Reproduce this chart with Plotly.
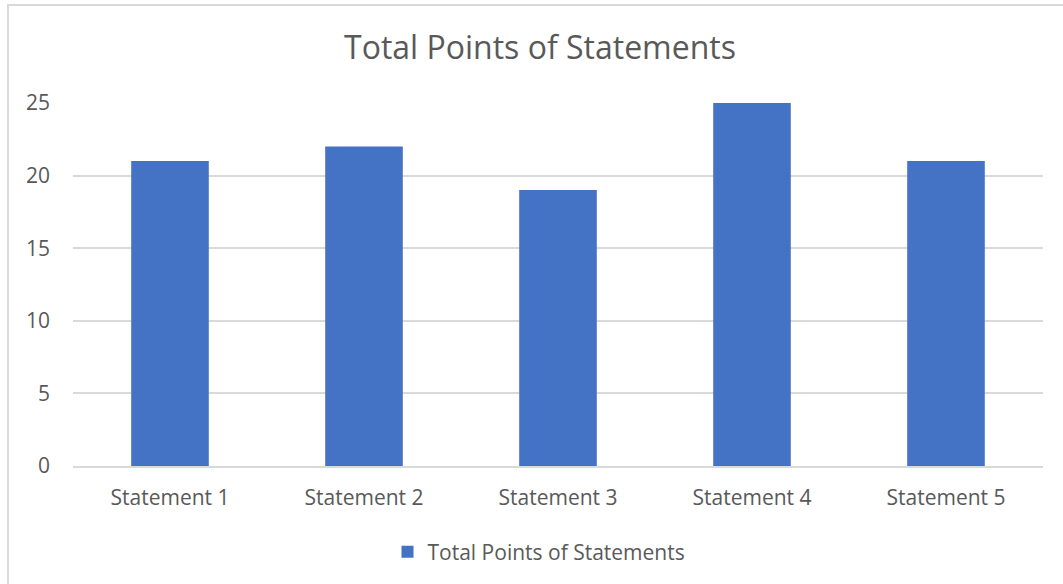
import plotly.graph_objects as go

# ----------------------- data ------------------
statements = ['Statement 1', 'Statement 2', 'Statement 3', 'Statement 4', 'Statement 5']
total_points = [21, 22, 19, 25, 21]
y_ticks = [0, 5, 10, 15, 20, 25]

text_color = '#595959'
grid_color = '#D9D9D9'
bar_color = '#4472C4'
font_family = 'Open Sans'

# ----------------------- figure ------------------
bar = go.Bar(x=statements, y=total_points, name='Total Points of Statements',
             marker_color=bar_color, marker_line_width=0)

fig = go.Figure(data=bar)

W, H = 1063, 584
ml, mr, mt, mb = 73, 20, 103, 118
pw, ph = W - ml - mr, H - mt - mb

fig.update_layout(
    width=W, height=H,
    margin=dict(l=ml, r=mr, t=mt, b=mb),
    paper_bgcolor='white', plot_bgcolor='white',
    font=dict(family=font_family, color=text_color, size=21),
    title=dict(text='Total Points of Statements', x=540 / W, xanchor='center',
               y=1 - 48 / H, yanchor='middle',
               font=dict(size=32, color=text_color, family=font_family)),
    bargap=0.6,
    showlegend=True,
    legend=dict(orientation='h', x=(539 - ml) / pw, xanchor='center',
                y=-(552 - mt - ph) / ph, yanchor='middle',
                font=dict(size=21, color=text_color)),
)

fig.update_yaxes(range=[0, 25], tickvals=y_ticks, showgrid=True, gridcolor=grid_color,
                 gridwidth=1.5, zeroline=False, showline=False, ticks='',
                 ticklabelstandoff=22, tickfont=dict(size=21, color=text_color))
fig.update_xaxes(showgrid=False, showline=True, linecolor=grid_color, linewidth=1.5,
                 ticks='', ticklabelstandoff=12, tickfont=dict(size=21, color=text_color))

# light border around the chart area (runs off the right and bottom edge)
fig.add_shape(type='rect', xref='paper', yref='paper',
              x0=(8 - ml) / pw, x1=(W + 10 - ml) / pw,
              y0=-(H + 10 - mt - ph) / ph, y1=1 + (mt - 5) / ph,
              line=dict(color=grid_color, width=2), fillcolor='rgba(0,0,0,0)', layer='below')

fig.write_html("out.html", config={'displayModeBar': False},
               post_script="document.body.style.margin='0';")
